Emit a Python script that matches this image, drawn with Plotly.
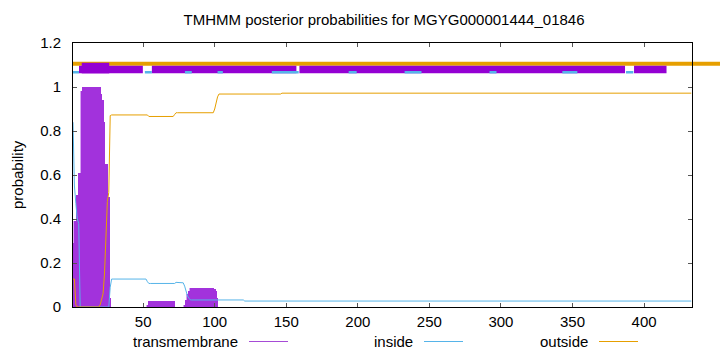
import plotly.graph_objects as go

# ---------------- data ----------------
seq_len = 433
residues = list(range(1, seq_len + 1))

# first 27 residues, per residue
tm_head = [0.29, 0.39, 0.39, 0.51, 0.61, 0.61, 0.98, 1.0, 1.0, 1.0, 1.0, 1.0, 1.0, 1.0,
           1.0, 1.0, 1.0, 1.0, 1.0, 1.0, 0.97, 0.94, 0.84, 0.65, 0.65, 0.5, 0.04]
inside_head = [0.84, 0.55, 0.47, 0.40, 0.38, 0.0, 0.0, 0.0, 0.0, 0.0, 0.0, 0.0, 0.0, 0.0,
               0.0, 0.0, 0.0, 0.0, 0.0, 0.0, 0.0, 0.0, 0.0, 0.0, 0.0, 0.0, 0.09]
outside_head = [0.127, 0.127, 0.01, 0.0, 0.0, 0.0, 0.0, 0.0, 0.0, 0.0, 0.0, 0.0, 0.0, 0.0,
                0.0, 0.0, 0.0, 0.0, 0.0, 0.01, 0.03, 0.06, 0.15, 0.33, 0.48, 0.52, 0.87]

# remaining residues as runs (start, end, value)
tm_runs = [(28, 52, 0.0), (53, 53, 0.01), (54, 72, 0.027), (73, 78, 0.0), (79, 79, 0.01),
           (80, 80, 0.03), (81, 81, 0.06), (82, 82, 0.075), (83, 99, 0.085), (100, 100, 0.082),
           (101, 101, 0.075), (102, 102, 0.04), (103, 433, 0.0)]
inside_runs = [(28, 52, 0.127), (53, 53, 0.115), (54, 72, 0.107), (73, 77, 0.112),
               (78, 78, 0.11), (79, 79, 0.095), (80, 80, 0.07), (81, 81, 0.05),
               (82, 82, 0.04), (83, 120, 0.032), (121, 433, 0.027)]
outside_runs = [(28, 53, 0.873), (54, 71, 0.866), (72, 72, 0.875), (73, 99, 0.883),
                (100, 100, 0.9), (101, 101, 0.93), (102, 102, 0.955), (103, 146, 0.968),
                (147, 433, 0.972)]

# predicted topology segments drawn above the plot (residue start, end)
topo_tm = [(5.2, 49.8), (56.1, 157.1), (159.2, 386.7), (393.0, 415.7)]
topo_tm_core = [(7.1, 26.3)]
topo_inside = [(1, 5.2), (51.2, 56.1), (79.2, 84.0), (102.0, 105.7), (139.9, 158.7),
               (193.6, 199.2), (232.7, 244.5), (292.0, 296.9), (342.9, 353.4), (387.4, 392.5)]
topo_outside = [(1, 460)]

x_ticks = [50, 100, 150, 200, 250, 300, 350, 400]
y_ticks = [0, 0.2, 0.4, 0.6, 0.8, 1.0, 1.2]
legend_names = ["transmembrane", "inside", "outside"]


def expand(head, runs):
    vals = list(head)
    for s, e, v in runs:
        vals.extend([v] * (e - s + 1))
    return vals


tm = expand(tm_head, tm_runs)
inside = expand(inside_head, inside_runs)
outside = expand(outside_head, outside_runs)

PURPLE = "#9400d3"
CYAN = "#56b4e9"
ORANGE = "#e69f00"
FONT = "Liberation Sans, Arial, sans-serif"

X0, X1 = 1, 433.5
PX_L, PX_R, PX_T, PX_B = 73, 692, 43, 307

fig = go.Figure()

# transmembrane impulses (striped look)
fig.add_trace(go.Bar(x=residues, y=tm, width=1.0, marker=dict(color="#d7a2f2", line=dict(width=0)),
                     showlegend=False, hoverinfo="skip"))
fig.add_trace(go.Bar(x=residues, y=tm, width=0.45, marker=dict(color="#a232dc", line=dict(width=0)),
                     showlegend=False))

fig.add_trace(go.Scatter(x=residues, y=inside, mode="lines", line=dict(color=CYAN, width=1),
                         showlegend=False))
fig.add_trace(go.Scatter(x=residues, y=outside, mode="lines", line=dict(color=ORANGE, width=1),
                         showlegend=False))

# topology bars
for s, e in topo_tm:
    fig.add_trace(go.Scatter(x=[s, e], y=[1.0795, 1.0795], mode="lines",
                             line=dict(color=PURPLE, width=7.6), showlegend=False))
for s, e in topo_inside:
    fig.add_trace(go.Scatter(x=[s, e], y=[1.067, 1.067], mode="lines",
                             line=dict(color=CYAN, width=2.5), showlegend=False))
for s, e in topo_tm_core:
    fig.add_trace(go.Scatter(x=[s, e], y=[1.086, 1.086], mode="lines",
                             line=dict(color=PURPLE, width=10.6), showlegend=False))

shapes = []
W = PX_R - PX_L
H = PX_B - PX_T
for s, e in topo_outside:
    shapes.append(dict(type="line", xref="paper", yref="y",
                       x0=(s - X0) / (X1 - X0), x1=(e - X0) / (X1 - X0),
                       y0=1.106, y1=1.106, line=dict(color=ORANGE, width=4), layer="below"))

# legend (gnuplot style: text then line sample)
annotations = []
leg_text_right = [240, 415, 590]
leg_line = [(249, 288), (424, 463), (599, 638)]
leg_colors = ["#a64bd6", CYAN, ORANGE]
leg_y = (PX_B - 341.5) / H
for name, tr, (l0, l1), c in zip(legend_names, leg_text_right, leg_line, leg_colors):
    annotations.append(dict(text=name, xref="paper", yref="paper", x=(tr - PX_L) / W, y=leg_y,
                            xanchor="right", yanchor="middle", showarrow=False,
                            font=dict(family=FONT, size=15, color="black")))
    shapes.append(dict(type="line", xref="paper", yref="paper", x0=(l0 - PX_L) / W,
                       x1=(l1 - PX_L) / W, y0=leg_y, y1=leg_y, line=dict(color=c, width=1)))

annotations.append(dict(text="probability", xref="paper", yref="paper", x=(17 - PX_L) / W, y=0.5,
                        xanchor="center", yanchor="middle", textangle=-90, showarrow=False,
                        font=dict(family=FONT, size=15, color="black")))

fig.update_layout(
    width=720, height=352,
    margin=dict(l=PX_L, r=720 - PX_R, t=PX_T, b=352 - PX_B),
    paper_bgcolor="white", plot_bgcolor="white",
    barmode="overlay", bargap=0,
    title=dict(text="TMHMM posterior probabilities for MGYG000001444_01846",
               x=384 / 720, xanchor="center", y=1 - 20 / 352, yanchor="middle",
               font=dict(family=FONT, size=15, color="black")),
    font=dict(family=FONT, size=15, color="black"),
    showlegend=False,
    shapes=shapes, annotations=annotations,
    xaxis=dict(range=[X0, X1], tickvals=x_ticks, ticks="inside", ticklen=4, tickcolor="#555",
               showline=True, linecolor="black", linewidth=1, mirror="ticks", showgrid=False,
               zeroline=False, ticklabelstandoff=1, tickfont=dict(size=15)),
    yaxis=dict(range=[0, 1.2], tickvals=y_ticks, ticks="inside", ticklen=4, tickcolor="#555",
               showline=True, linecolor="black", linewidth=1, mirror="ticks", showgrid=False,
               zeroline=False, ticklabelstandoff=8, tickfont=dict(size=15)),
)

fig.write_html("out.html")
